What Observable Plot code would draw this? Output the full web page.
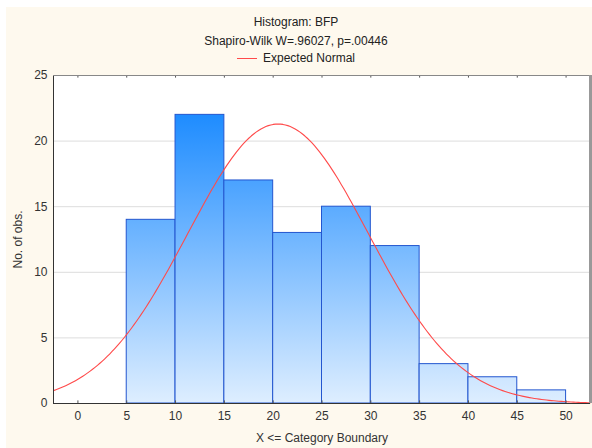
<!DOCTYPE html>
<html>
<head>
<meta charset="utf-8">
<script src="https://cdn.jsdelivr.net/npm/d3@7"></script>
<script src="https://cdn.jsdelivr.net/npm/@observablehq/plot@0.6"></script>
<style>
  html, body { margin: 0; padding: 0; background: #ffffff; }
  #wrap { position: relative; width: 592px; height: 448px; overflow: hidden; background: #ffffff; font-family: "Liberation Sans", Arial, sans-serif; }
  #bg { position: absolute; left: 6px; top: 7px; width: 586px; height: 441px; background: #fef9ee; }
  .t { position: absolute; left: 0; width: 592px; text-align: center; font-size: 12px; color: #222; line-height: 14px; }
  #legend { display: flex; justify-content: center; align-items: center; gap: 6px; }
  #legend .sw { width: 20px; height: 0; border-top: 1px solid #ff4a4a; }
  #chart { position: absolute; left: 0; top: 66px; }
</style>
</head>
<body>
<div id="wrap">
  <div id="bg"></div>
  <div class="t" style="top:15px">Histogram: BFP</div>
  <div class="t" style="top:34px">Shapiro-Wilk W=.96027, p=.00446</div>
  <div class="t" id="legend" style="top:51px"><span class="sw"></span><span>Expected Normal</span></div>
  <div id="chart"></div>
</div>
<script>
// Histogram bins (upper boundaries, X <= boundary) and counts
const binLower = [5, 10, 15, 20, 25, 30, 35, 40, 45];
const binUpper = [10, 15, 20, 25, 30, 35, 40, 45, 50];
const counts   = [14, 22, 17, 13, 15, 12, 3, 2, 1];
const xTicks = [0, 5, 10, 15, 20, 25, 30, 35, 40, 45, 50];
const yTicks = [0, 5, 10, 15, 20, 25];
const gridY = [5, 10, 15, 20];
// Expected normal parameters
const normalMean = 20.5;
const normalSd = 9.27;
const binWidth = 5;

const bins = binLower.map((lo, i) => ({x1: lo, x2: binUpper[i], y: counts[i]}));
const nObs = d3.sum(counts);
const curveX = d3.range(-2.5, 52.51, 0.25);
const curve = curveX.map(x => ({
  x,
  y: nObs * binWidth / (normalSd * Math.sqrt(2 * Math.PI)) * Math.exp(-0.5 * ((x - normalMean) / normalSd) ** 2)
}));

const chart = Plot.plot({
  width: 592,
  height: 382,
  marginTop: 9,
  marginBottom: 45,
  marginLeft: 53,
  marginRight: 2,
  style: {background: "transparent", fontFamily: "Liberation Sans, Arial, sans-serif", fontSize: "12px", color: "#333"},
  x: {domain: [-2.5, 52.5], ticks: xTicks, tickSize: 0, tickPadding: 8, label: "X <= Category Boundary", labelArrow: "none", labelAnchor: "center", labelOffset: 38},
  y: {domain: [0, 25], ticks: yTicks, tickSize: 0, tickPadding: 6, label: "No. of obs.", labelArrow: "none", labelAnchor: "center", labelOffset: 40},
  marks: [
    Plot.frame({fill: "#ffffff", stroke: "none"}),
    Plot.ruleY(gridY, {stroke: "#dddddd", strokeWidth: 1}),
    Plot.rectY(bins, {x1: "x1", x2: "x2", y: "y", fill: "url(#barGrad)", stroke: "#2356cf", strokeWidth: 1, inset: 0}),
    Plot.line(curve, {x: "x", y: "y", stroke: "#ff4a4a", strokeWidth: 1.1}),
    Plot.ruleX(xTicks, {y1: 0, y2: 0.2, stroke: "#555"}),
    Plot.ruleX(xTicks, {y1: 25, y2: 24.8, stroke: "#555"}),
    Plot.ruleX([-2.5], {stroke: "#333", strokeWidth: 1}),
    Plot.ruleY([0], {stroke: "#333", strokeWidth: 1}),
    Plot.ruleY([25], {stroke: "#888", strokeWidth: 1}),
    Plot.ruleX([52.5], {stroke: "#999", strokeWidth: 3})
  ]
});

// gradient in plot coordinates: dark at top (22), light at bottom (0)
const ys = chart.scale("y");
const svg = d3.select(chart);
const defs = svg.insert("defs", ":first-child");
const g = defs.append("linearGradient")
  .attr("id", "barGrad")
  .attr("gradientUnits", "userSpaceOnUse")
  .attr("x1", 0).attr("x2", 0)
  .attr("y1", ys.apply(22)).attr("y2", ys.apply(0));
g.append("stop").attr("offset", "0%").attr("stop-color", "#1e8cff");
g.append("stop").attr("offset", "100%").attr("stop-color", "#deeeff");

document.getElementById("chart").appendChild(chart);
</script>
</body>
</html>
